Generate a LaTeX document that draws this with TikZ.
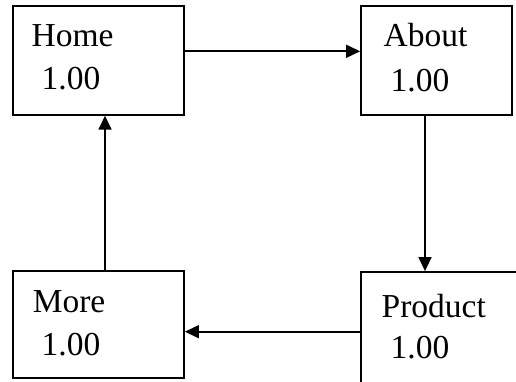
\documentclass[tikz,border=0pt]{standalone}
\usepackage{fontspec}
\setmainfont{Liberation Serif}
\usetikzlibrary{arrows.meta}

\tikzset{
  page/.style={draw, line width=1.8pt, inner sep=0pt},
  lbl/.style={anchor=base west, inner sep=0pt, font=\fontsize{33.5}{40}\selectfont},
  arr/.style={line width=1.6pt, -{Triangle[length=14pt,width=13pt]}}
}

\begin{document}
\begin{tikzpicture}[x=1pt, y=1pt]
        \useasboundingbox (0, 0) rectangle (516, 381);
        \clip (0, 0) rectangle (516, 381);

        \node[page, minimum width=171pt, minimum height=109pt] (home) at (98.5, 320.7) {};
        \node[page, minimum width=151pt, minimum height=109pt] (about) at (436.5, 320.7) {};
        \node[page, minimum width=171pt, minimum height=107pt] (more) at (98.5, 56.5) {};
        \node[page, minimum width=200pt, minimum height=148pt] (product) at (461, 35) {};

        \node[lbl] (homename) at (31.5, 334) {Home};
        \node[lbl] (homeval) at (41.5, 291) {1.00};
        \node[lbl] (aboutname) at (383.5, 334) {About};
        \node[lbl] (aboutval) at (390.5, 290) {1.00};
        \node[lbl] (productname) at (381.5, 64) {Product};
        \node[lbl] (productval) at (390.5, 23) {1.00};
        \node[lbl] (morename) at (32.6, 69) {More};
        \node[lbl] (moreval) at (41.5, 26) {1.00};

        \draw[arr] ([yshift=9pt]home.east) -- ([yshift=9pt]about.west);
        \draw[arr] ([xshift=-11.5pt]about.south) -- ([xshift=-11.5pt]about.south |- product.north);
        \draw[arr] ([yshift=14.3pt]product.west) -- ([yshift=14.3pt]product.west -| more.east);
        \draw[arr] ([xshift=6.5pt]more.north) -- ([xshift=6.5pt]home.south);
\end{tikzpicture}
\end{document}
